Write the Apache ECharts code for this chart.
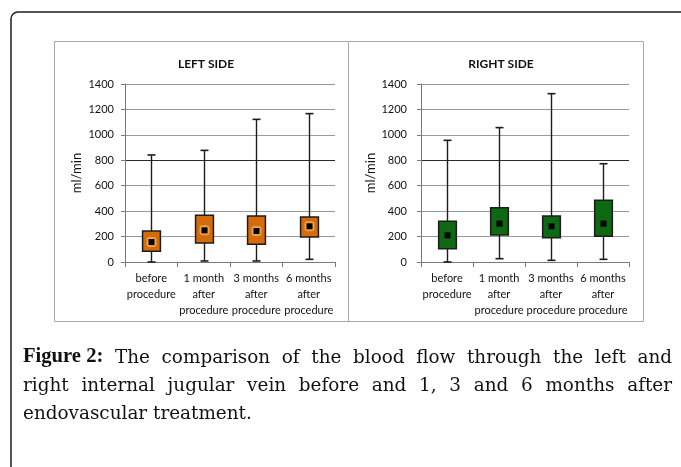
<!DOCTYPE html>
<html>
<head>
<meta charset="utf-8">
<script src="https://cdn.jsdelivr.net/npm/echarts@6/dist/echarts.min.js"></script>
<style>
html,body{margin:0;padding:0;background:#fff;}
#c{width:681px;height:467px;}
</style>
</head>
<body>
<div id="c"></div>
<script>
// ---- data ----
var categories = ['before\nprocedure', '1 month\nafter\nprocedure', '3 months\nafter\nprocedure', '6 months\nafter\nprocedure'];
var yTicks = [0, 200, 400, 600, 800, 1000, 1200, 1400];

var leftMin  = [0, 8, 8, 21];
var leftQ1   = [84, 149, 139, 197];
var leftMean = [157, 249, 244, 281];
var leftQ3   = [243, 367, 362, 354];
var leftMax  = [842, 878, 1122, 1167];

var rightMin  = [0, 26, 13, 21];
var rightQ1   = [105, 212, 191, 202];
var rightMean = [210, 302, 281, 302];
var rightQ3   = [320, 427, 362, 485];
var rightMax  = [957, 1057, 1324, 773];

var panelTitles = ['LEFT SIDE', 'RIGHT SIDE'];
var yName = 'ml/min';
var captionLines = [
  ['Figure 2:', 'The', 'comparison', 'of', 'the', 'blood', 'flow', 'through', 'the', 'left', 'and'],
  ['right', 'internal', 'jugular', 'vein', 'before', 'and', '1,', '3', 'and', '6', 'months', 'after'],
  ['endovascular', 'treatment.']
];
var boldWords = 1; // first word of caption is bold

function buildData(mn, q1, me, q3, mx) {
  return categories.map(function (c, i) { return [i, mn[i], q1[i], me[i], q3[i], mx[i]]; });
}

var chartFont = 'Lato';

function makeRender(fill, halo) {
  return function (params, api) {
    var x = api.value(0);
    var pMin = api.coord([x, api.value(1)]);
    var pQ1 = api.coord([x, api.value(2)]);
    var pMe = api.coord([x, api.value(3)]);
    var pQ3 = api.coord([x, api.value(4)]);
    var pMax = api.coord([x, api.value(5)]);
    var band = api.size([1, 0])[0];
    var bw = band * 0.34;
    var cx = Math.round(pMin[0]) + 0.5;
    var cap = 4;
    var stroke = '#1c1c1c';
    var children = [
      {type: 'line', shape: {x1: cx, y1: pMax[1], x2: cx, y2: pMin[1]}, style: {stroke: stroke, lineWidth: 1.4}},
      {type: 'line', shape: {x1: cx - cap, y1: pMax[1], x2: cx + cap, y2: pMax[1]}, style: {stroke: stroke, lineWidth: 1.6}},
      {type: 'line', shape: {x1: cx - cap, y1: pMin[1], x2: cx + cap, y2: pMin[1]}, style: {stroke: stroke, lineWidth: 1.6}},
      {type: 'rect', shape: {x: cx - bw / 2, y: pQ3[1], width: bw, height: pQ1[1] - pQ3[1]}, style: {fill: fill, stroke: stroke, lineWidth: 1.5}}
    ];
    if (halo) {
      children.push({type: 'rect', shape: {x: cx - 5, y: pMe[1] - 5, width: 10, height: 10, r: 3}, style: {fill: halo}});
    }
    children.push({type: 'rect', shape: {x: cx - 3, y: pMe[1] - 3, width: 6, height: 6}, style: {fill: '#000'}});
    return {type: 'group', children: children};
  };
}

var gridColors = yTicks.map(function (v) { return v === 800 ? '#2a2a2a' : '#9a9a9a'; });

function xAxisCfg(gi) {
  return {
    type: 'category', gridIndex: gi, data: categories,
    axisLine: {lineStyle: {color: '#7a7a7a', width: 1}},
    axisTick: {show: true, length: 5, lineStyle: {color: '#7a7a7a'}},
    axisLabel: {interval: 0, color: '#111', fontSize: 11, lineHeight: 16, margin: 8, fontFamily: chartFont}
  };
}
function yAxisCfg(gi, labelMargin, nameGap) {
  return {
    type: 'value', gridIndex: gi, min: 0, max: 1400, interval: 200,
    name: yName, nameLocation: 'middle', nameGap: nameGap, nameRotate: 90,
    nameTextStyle: {fontSize: 13, color: '#111', fontFamily: chartFont},
    axisLine: {show: true, lineStyle: {color: '#7a7a7a', width: 1}},
    axisTick: {show: true, length: 4, lineStyle: {color: '#7a7a7a'}},
    axisLabel: {color: '#111', fontSize: 11, margin: labelMargin, fontFamily: chartFont,
      formatter: function (v) { return String(v); }},
    splitLine: {show: true, lineStyle: {color: gridColors, width: 1}}
  };
}

// caption layout (justified text)
var capLeft = 23, capRight = 672;
var capFont = 'DejaVu Serif';
var boldFont = 'Liberation Serif';
var meas = document.createElement('canvas').getContext('2d');
meas.font = '20px "' + capFont + '"';
var fs = 20 * 229 / meas.measureText(captionLines[2].join(' ')).width;
var bfs = fs * 1.12;
function fontFor(bold) {
  return bold ? ('bold ' + bfs + 'px "' + boldFont + '"') : (fs + 'px "' + capFont + '"');
}
var capBaselines = [367, 395, 423];
var captionGraphics = [];
captionLines.forEach(function (words, li) {
  var widths = words.map(function (w, wi) {
    meas.font = fontFor(li === 0 && wi < boldWords);
    return meas.measureText(w).width;
  });
  meas.font = fontFor(false);
  var spaceW = meas.measureText(' ').width;
  var total = widths.reduce(function (a, b) { return a + b; }, 0);
  var justify = li < captionLines.length - 1;
  var gap = justify ? (capRight - capLeft - total) / (words.length - 1) : spaceW;
  var x = capLeft;
  words.forEach(function (w, wi) {
    var bold = li === 0 && wi < boldWords;
    captionGraphics.push({
      type: 'text', x: x, y: capBaselines[li],
      style: {text: w, font: fontFor(bold), fill: '#111', verticalAlign: 'bottom'}
    });
    x += widths[wi] + gap;
  });
});

var chart = echarts.init(document.getElementById('c'));
chart.setOption({
  animation: false,
  backgroundColor: '#fff',
  title: [
    {text: panelTitles[0], left: 201, top: 53, textAlign: 'center', textStyle: {fontSize: 12, fontWeight: 'bold', color: '#111', fontFamily: chartFont}},
    {text: panelTitles[1], left: 496, top: 53, textAlign: 'center', textStyle: {fontSize: 12, fontWeight: 'bold', color: '#111', fontFamily: chartFont}}
  ],
  grid: [
    {left: 125, right: 346, top: 84, bottom: 205},
    {left: 421, right: 52, top: 84, bottom: 205}
  ],
  xAxis: [xAxisCfg(0), xAxisCfg(1)],
  yAxis: [yAxisCfg(0, 11, 42), yAxisCfg(1, 14, 38)],
  series: [
    {type: 'custom', xAxisIndex: 0, yAxisIndex: 0, renderItem: makeRender('#D46B0C', '#F0A04A'), data: buildData(leftMin, leftQ1, leftMean, leftQ3, leftMax), encode: {x: 0, y: [1, 2, 3, 4, 5]}},
    {type: 'custom', xAxisIndex: 1, yAxisIndex: 1, renderItem: makeRender('#0E6A12', null), data: buildData(rightMin, rightQ1, rightMean, rightQ3, rightMax), encode: {x: 0, y: [1, 2, 3, 4, 5]}}
  ],
  graphic: [
    {type: 'rect', shape: {x: 11, y: 12, width: 720, height: 520, r: 7}, style: {fill: 'none', stroke: '#1e1e1e', lineWidth: 1.5}, z: 10},
    {type: 'rect', shape: {x: 54.5, y: 41.5, width: 294, height: 280}, style: {fill: 'none', stroke: '#a8a8a8', lineWidth: 1}},
    {type: 'rect', shape: {x: 348.5, y: 41.5, width: 295, height: 280}, style: {fill: 'none', stroke: '#a8a8a8', lineWidth: 1}}
  ].concat(captionGraphics)
});
</script>
</body>
</html>
